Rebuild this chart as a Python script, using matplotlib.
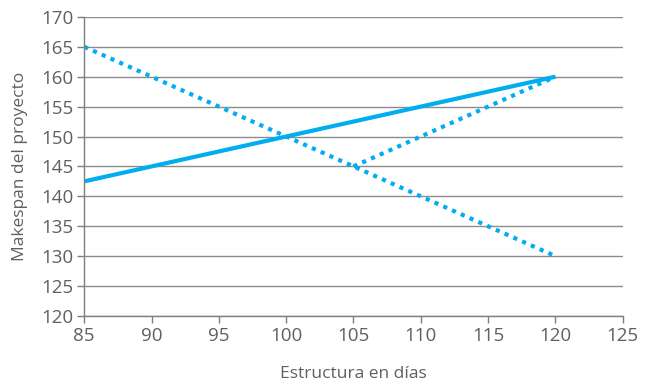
import matplotlib
matplotlib.use("Agg")
import matplotlib.pyplot as plt

plt.rcParams['font.family'] = ['Open Sans', 'DejaVu Sans']

solid_x = [85, 120]
solid_y = [142.5, 160]
dot1_x = [85, 120]
dot1_y = [165, 130]
dot2_x = [105, 120]
dot2_y = [145, 160]

xticks = list(range(85, 130, 5))
yticks = list(range(120, 175, 5))

color = '#00aeef'
gray = '#606060'

fig = plt.figure(figsize=(6.48, 3.83), dpi=100)
ax = fig.add_axes([0.13, 0.175, 0.831, 0.781])

ax.plot(solid_x, solid_y, color=color, lw=3.0, solid_capstyle='butt')
ax.plot(dot1_x, dot1_y, color=color, lw=3.0, linestyle=(0, (1, 1.3)), dash_capstyle='butt')
ax.plot(dot2_x, dot2_y, color=color, lw=3.0, linestyle=(0, (1, 1.3)), dash_capstyle='butt')

ax.set_xlim(85, 125)
ax.set_ylim(120, 170)
ax.set_xticks(xticks)
ax.set_yticks(yticks)
ax.yaxis.grid(True, color='#8c8c8c', lw=1.0)
ax.set_axisbelow(True)
for s in ['top', 'right']:
    ax.spines[s].set_visible(False)
for s in ['left', 'bottom']:
    ax.spines[s].set_color('#7f7f7f')
    ax.spines[s].set_linewidth(1.0)
ax.tick_params(axis='both', colors='#7f7f7f', labelcolor=gray, labelsize=13.5, length=5, width=1.0, pad=3)
ax.set_xlabel('Estructura en días', color=gray, fontsize=12.5, labelpad=15)
ax.set_ylabel('Makespan del proyecto', color=gray, fontsize=12.5, labelpad=9)

fig.savefig('out.png', dpi=100)
